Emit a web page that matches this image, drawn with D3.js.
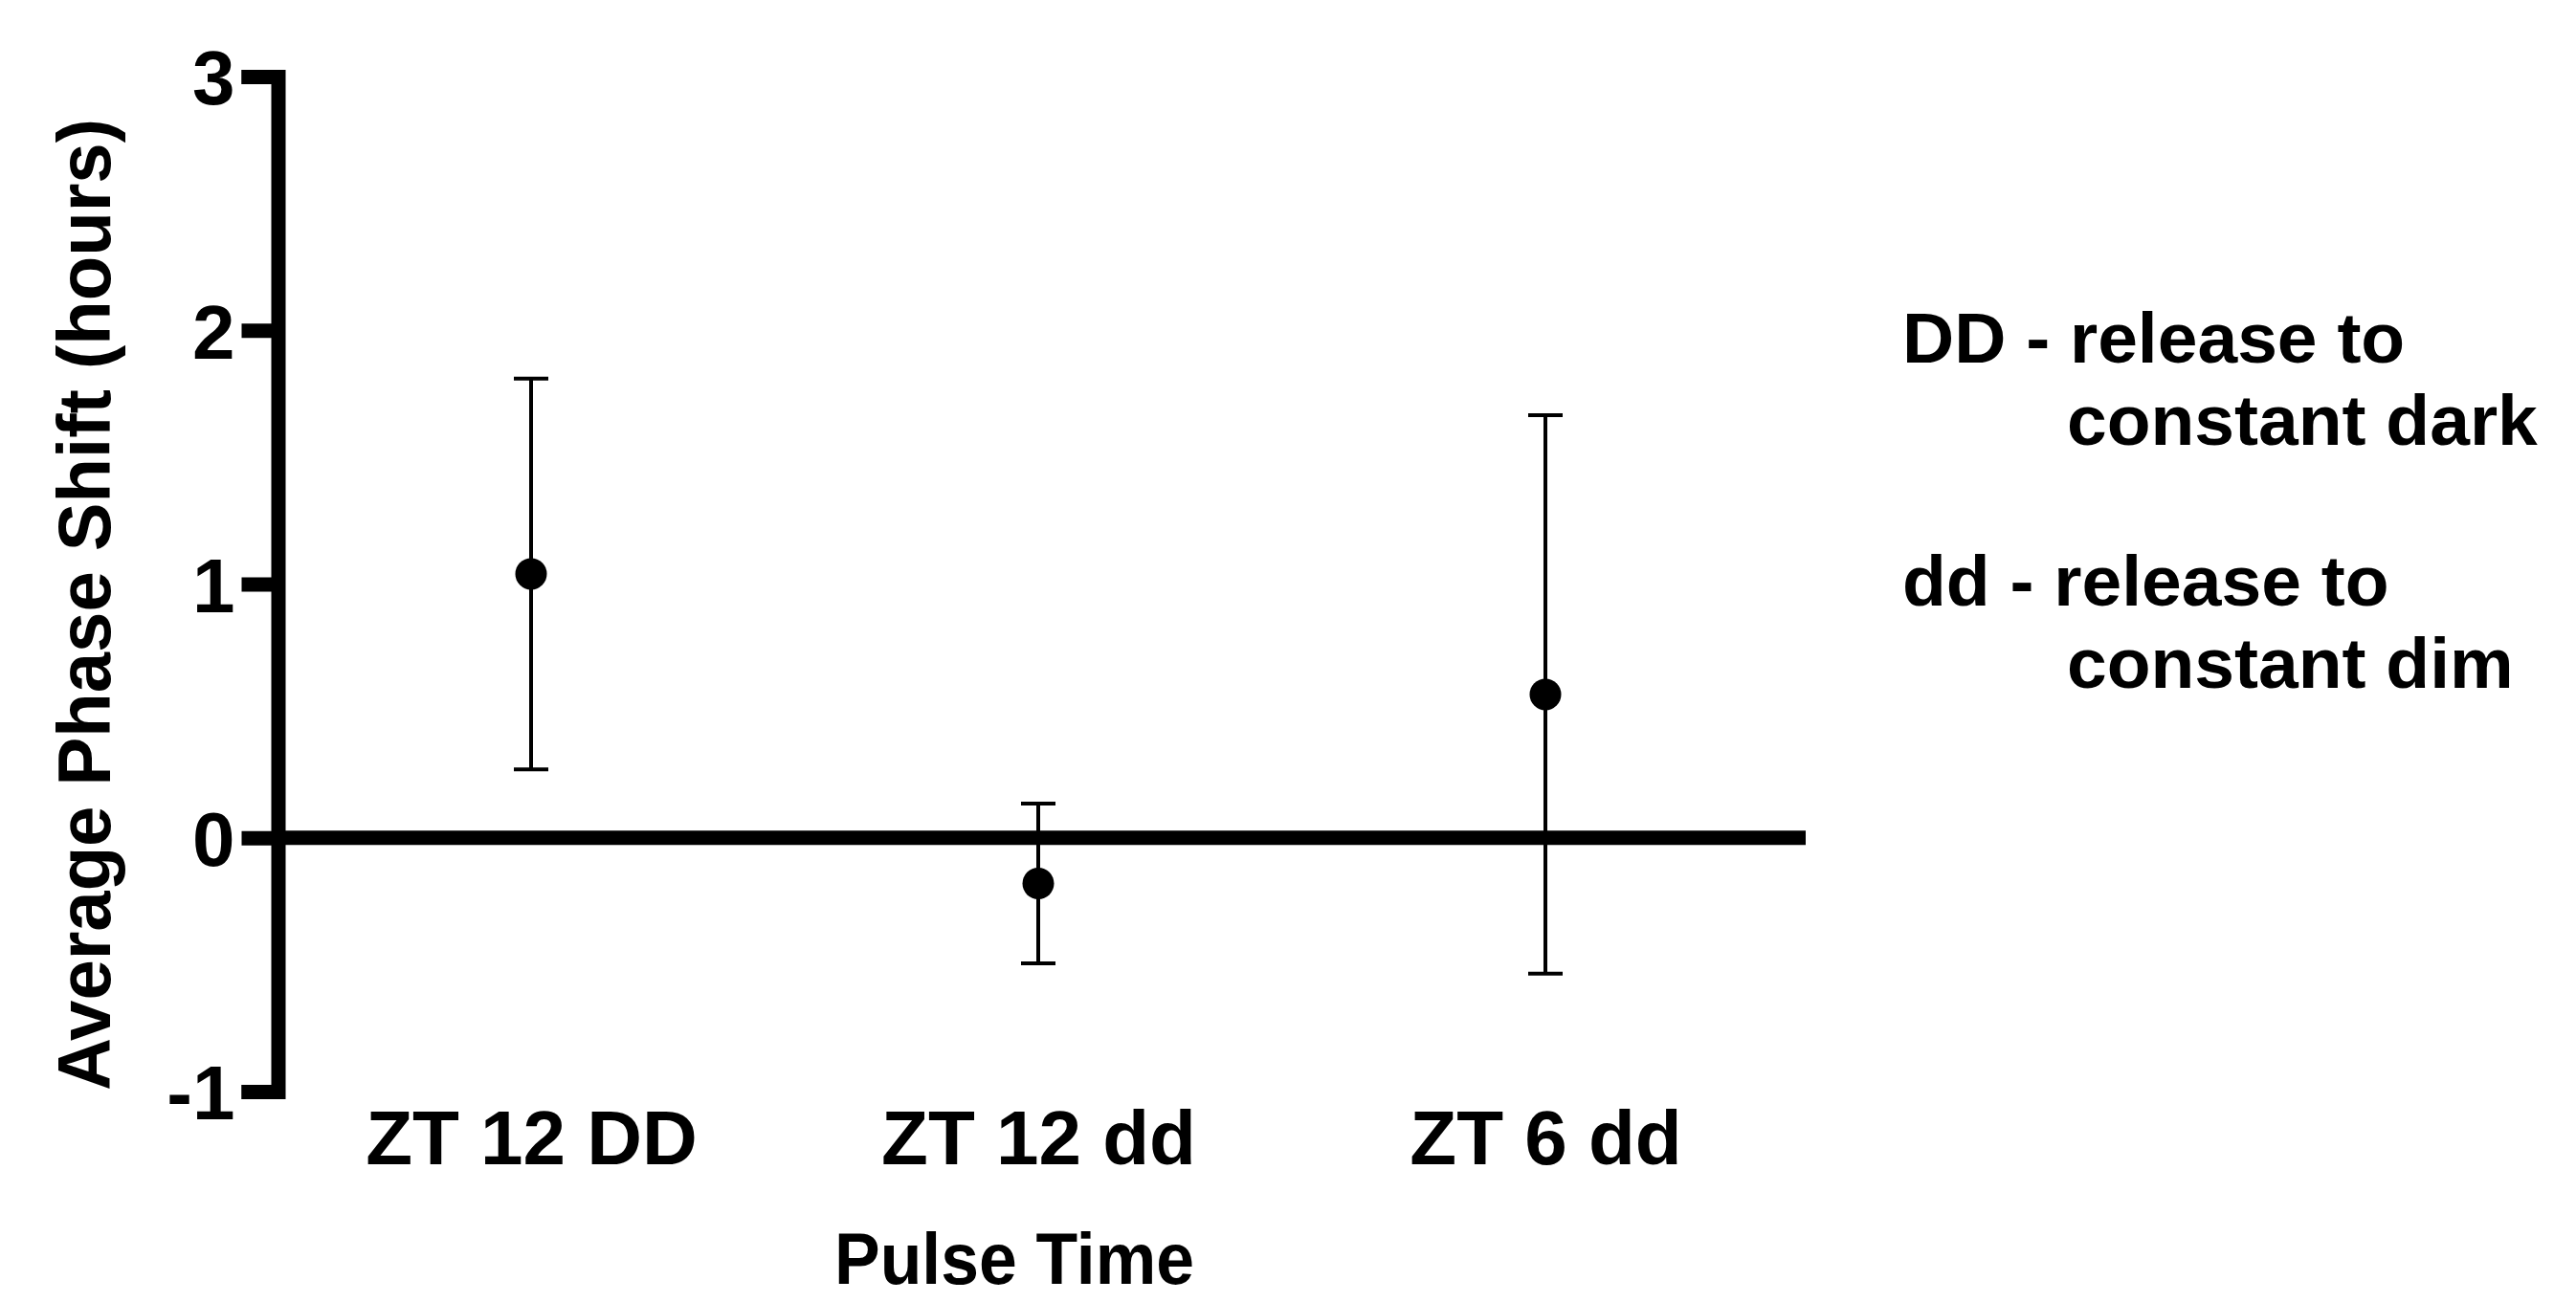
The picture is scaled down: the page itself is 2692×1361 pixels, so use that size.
<!DOCTYPE html>
<html>
<head>
<meta charset="utf-8">
<script src="https://cdn.jsdelivr.net/npm/d3@7"></script>
<style>
  body { margin: 0; background: #fff; }
  text { font-family: "Liberation Sans", Arial, sans-serif; font-weight: bold; fill: #000; }
</style>
</head>
<body>
<div id="chart-area"></div>
<script>
// Data
var categories = ["ZT 12 DD", "ZT 12 dd", "ZT 6 dd"];
var means = [1.04, -0.18, 0.565];
var errors = [0.77, 0.315, 1.10];
var yTicks = [-1, 0, 1, 2, 3];
var legendLines = [
    ["DD - release to", "constant dark"],
    ["dd - release to", "constant dim"]
];

var width = 2692;
var height = 1361;

var svg = d3.select("#chart-area")
    .append("svg")
    .attr("width", width)
    .attr("height", height);

svg.append("rect")
    .attr("width", width)
    .attr("height", height)
    .attr("fill", "#fff");

// Scales
var axisX = 290.5;
var x = d3.scalePoint()
    .domain(categories)
    .range([290, 1880])
    .padding(0.5);

var y = d3.scaleLinear()
    .domain([-1, 3])
    .range([1141, 80]);

// Y axis (with outer ticks at the ends, Prism style)
var leftAxis = d3.axisLeft(y)
    .tickValues(yTicks)
    .tickSizeInner(38)
    .tickSizeOuter(38)
    .tickPadding(7)
    .tickFormat(function(d) { return String(d); });

var yAxisG = svg.append("g")
    .attr("class", "left axis")
    .attr("transform", "translate(" + axisX + ",0)")
    .call(leftAxis);

yAxisG.select(".domain")
    .attr("stroke", "#000")
    .attr("stroke-width", 15)
    .attr("stroke-linejoin", "miter")
    .attr("fill", "none");
yAxisG.selectAll(".tick line")
    .attr("stroke", "#000")
    .attr("stroke-width", 15);
yAxisG.selectAll(".tick text")
    .attr("font-size", "80px")
    .attr("dy", "0.36em")
    .style("font-family", "'Liberation Sans', Arial, sans-serif")
    .style("font-weight", "bold")
    .attr("fill", "#000");

// Zero line (x axis)
svg.append("line")
    .attr("x1", axisX)
    .attr("x2", 1887)
    .attr("y1", y(0))
    .attr("y2", y(0))
    .attr("stroke", "#000")
    .attr("stroke-width", 15);

// X category labels
var bottomAxis = d3.axisBottom(x).tickSize(0).tickPadding(0);
var xAxisG = svg.append("g")
    .attr("class", "bottom axis")
    .attr("transform", "translate(0,1160)")
    .call(bottomAxis);
xAxisG.select(".domain").remove();
xAxisG.selectAll("text")
    .attr("font-size", "80px")
    .attr("dy", "0.71em")
    .style("font-family", "'Liberation Sans', Arial, sans-serif")
    .style("font-weight", "bold")
    .attr("fill", "#000");

// X axis label
svg.append("text")
    .attr("x", 1060)
    .attr("y", 1342)
    .attr("font-size", "76px")
    .attr("text-anchor", "middle")
    .attr("textLength", 376)
    .attr("lengthAdjust", "spacingAndGlyphs")
    .text("Pulse Time");

// Y axis label
svg.append("text")
    .attr("transform", "translate(115,632) rotate(-90)")
    .attr("font-size", "78px")
    .attr("text-anchor", "middle")
    .attr("textLength", 1016)
    .attr("lengthAdjust", "spacingAndGlyphs")
    .text("Average Phase Shift (hours)");

// Error bars and points
var pts = categories.map(function(c, i) {
    return {cat: c, mean: means[i], err: errors[i]};
});
var capHalf = 18;

var g = svg.append("g").attr("class", "points");
var bars = g.selectAll("g.bar").data(pts).enter().append("g").attr("class", "bar");

bars.append("line")
    .attr("x1", function(d) { return x(d.cat); })
    .attr("x2", function(d) { return x(d.cat); })
    .attr("y1", function(d) { return y(d.mean + d.err); })
    .attr("y2", function(d) { return y(d.mean - d.err); })
    .attr("stroke", "#000")
    .attr("stroke-width", 4);

bars.append("line")
    .attr("x1", function(d) { return x(d.cat) - capHalf; })
    .attr("x2", function(d) { return x(d.cat) + capHalf; })
    .attr("y1", function(d) { return y(d.mean + d.err); })
    .attr("y2", function(d) { return y(d.mean + d.err); })
    .attr("stroke", "#000")
    .attr("stroke-width", 4);

bars.append("line")
    .attr("x1", function(d) { return x(d.cat) - capHalf; })
    .attr("x2", function(d) { return x(d.cat) + capHalf; })
    .attr("y1", function(d) { return y(d.mean - d.err); })
    .attr("y2", function(d) { return y(d.mean - d.err); })
    .attr("stroke", "#000")
    .attr("stroke-width", 4);

bars.append("circle")
    .attr("cx", function(d) { return x(d.cat); })
    .attr("cy", function(d) { return y(d.mean); })
    .attr("r", 16.5)
    .attr("fill", "#000");

// Legend text
var legend = svg.append("g").attr("class", "legend");
legendLines.forEach(function(lines, i) {
    var base = 379 + i * 254;
    legend.append("text")
        .attr("x", 1988)
        .attr("y", base)
        .attr("font-size", "75px")
        .text(lines[0]);
    legend.append("text")
        .attr("x", 2160)
        .attr("y", base + 86)
        .attr("font-size", "75px")
        .text(lines[1]);
});
</script>
</body>
</html>
